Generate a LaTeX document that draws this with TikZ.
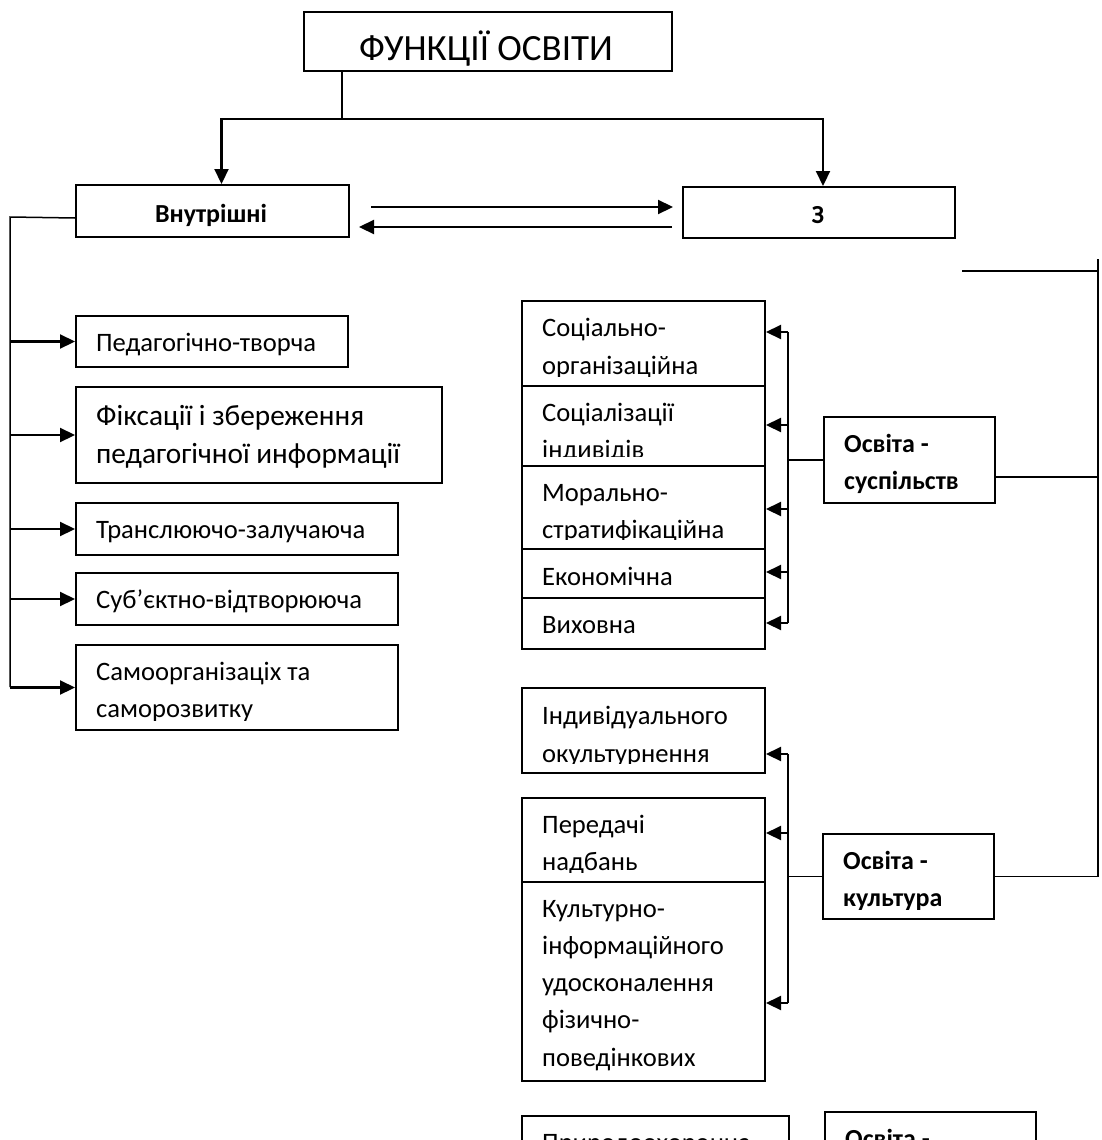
\documentclass[tikz,border=0pt]{standalone}
\usepackage{fontspec}
\setmainfont{Carlito}
\usetikzlibrary{arrows.meta}

\newcommand{\bodyfnt}{\fontsize{26.6}{37}\selectfont}
\newcommand{\boldfnt}{\fontsize{26}{37}\selectfont\bfseries}
\newcommand{\largefnt}{\fontsize{29.3}{38}\selectfont}
\newcommand{\titlefnt}{\fontsize{37}{40}\selectfont}

% текст у рамці, обрізаний знизу
\newcommand{\boxlines}[5]{%
  \begin{scope}
    \clip (#1.north west) rectangle ([yshift=11pt]#1.south east);
    \foreach \tline [count=\i] in {#5}
      \node[txt, font=#2, anchor=base west] (#1-\i)
        at ([xshift=21pt, yshift={-#3-(\i-1)*#4}]#1.north west) {\tline};
  \end{scope}}

\begin{document}
\begin{tikzpicture}[x=1pt,y=-1pt,>={Triangle[length=15pt,width=14pt]},
  box/.style={draw,line width=2pt,inner sep=0pt,anchor=north west},
  txt/.style={inner sep=0pt},
  ln/.style={line width=1.5pt},
  conn/.style={line width=2.2pt},
  arr/.style={line width=2.2pt,->}]
  \useasboundingbox (0,0) rectangle (1101,1140);
  \clip (0,0) rectangle (1101,1140);

  % верхній рівень
  \node[box,minimum width=368pt,minimum height=59pt] (fo) at (303,11) {};
  \node[txt,font=\titlefnt,anchor=base] (fot) at (486,61) {ФУНКЦІЇ ОСВІТИ};

  \node[box,minimum width=273pt,minimum height=52pt] (vn) at (75,184) {};
  \node[txt,font=\boldfnt,anchor=base] (vnt) at (211,222) {Внутрішні};
  \node[box,minimum width=272pt,minimum height=51pt] (z) at (682,186) {};
  \node[txt,font=\boldfnt,anchor=base] (zt) at (818,223) {З};

  \coordinate (hb) at (342,119);
  \draw[ln] (fo.south -| hb) -- (hb);
  \draw[arr] (hb) -| ([xshift=9pt]vn.north);
  \draw[arr] (hb) -| ([xshift=4pt]z.north);

  % стрілки між Внутрішні і З
  \coordinate (a1) at (371,207);
  \coordinate (a2) at (673,207);
  \coordinate (b1) at (672,227);
  \coordinate (b2) at (359,227);
  \draw[arr] (a1) -- (a2);
  \draw[arr] (b1) -- (b2);

  % внутрішні функції
  \node[box,minimum width=272pt,minimum height=51pt] (pt) at (75,315) {};
  \node[box,minimum width=366pt,minimum height=96pt] (fx) at (75,386) {};
  \node[box,minimum width=322pt,minimum height=52pt] (tz) at (75,502) {};
  \node[box,minimum width=322pt,minimum height=52pt] (sb) at (75,572) {};
  \node[box,minimum width=322pt,minimum height=85pt] (sm) at (75,644) {};
  \boxlines{pt}{\bodyfnt}{36pt}{37pt}{Педагогічно-творча}
  \boxlines{fx}{\largefnt}{39pt}{38pt}{Фіксації і збереження, педагогічної информації}
  \boxlines{tz}{\bodyfnt}{36pt}{37pt}{Транслюючо-залучаюча}
  \boxlines{sb}{\bodyfnt}{36pt}{37pt}{Суб’єктно-відтворююча}
  \boxlines{sm}{\bodyfnt}{36pt}{37pt}{Самоорганізаціх та, саморозвитку}

  \coordinate (trunk) at (10,217);
  \draw[ln] ([yshift=-7pt]vn.west) -- (trunk) -- (10,687);
  \foreach \n in {pt,fx,tz,sb,sm}
    \draw[arr] (trunk |- \n.west) -- (\n.west);

  % освіта - суспільство
  \node[box,minimum width=243pt,minimum height=85pt] (s1) at (521,300) {};
  \node[box,minimum width=243pt,minimum height=80pt] (s2) at (521,385) {};
  \node[box,minimum width=243pt,minimum height=83pt] (s3) at (521,465) {};
  \node[box,minimum width=243pt,minimum height=49pt] (s4) at (521,548) {};
  \node[box,minimum width=243pt,minimum height=51pt] (s5) at (521,597) {};
  \boxlines{s1}{\bodyfnt}{36pt}{38pt}{Соціально-, організаційна}
  \boxlines{s2}{\bodyfnt}{36pt}{37pt}{Соціалізації, індивідів}
  \boxlines{s3}{\bodyfnt}{36pt}{37pt}{Морально-, стратифікаційна}
  \boxlines{s4}{\bodyfnt}{37pt}{37pt}{Економічна}
  \boxlines{s5}{\bodyfnt}{36pt}{37pt}{Виховна}

  \node[box,minimum width=171pt,minimum height=86pt] (os) at (823,416) {};
  \boxlines{os}{\boldfnt}{36pt}{37pt}{Освіта -, суспільств}

  \coordinate (sx) at (788,332);
  \draw[conn] (sx) -- (788,623);
  \foreach \y/\n in {332/s1,425/s2,509/s3,572/s4,623/s5}
    \draw[arr] (788,\y) -- (\n.east |- 0,\y);
  \draw[ln] (sx |- os.west) -- (os.west);

  % освіта - культура
  \node[box,minimum width=243pt,minimum height=85pt] (k1) at (521,687) {};
  \node[box,minimum width=243pt,minimum height=84pt] (k2) at (521,797) {};
  \node[box,minimum width=243pt,minimum height=199pt] (k3) at (521,881) {};
  \boxlines{k1}{\bodyfnt}{37pt}{38pt}{Індивідуального, окультурнення}
  \boxlines{k2}{\bodyfnt}{36pt}{37pt}{Передачі, надбань}
  \boxlines{k3}{\bodyfnt}{36pt}{37.3pt}{Культурно-, інформаційного, удосконалення, фізично-, поведінкових}

  \node[box,minimum width=171pt,minimum height=85pt] (oc) at (822,833) {};
  \boxlines{oc}{\boldfnt}{36pt}{37pt}{Освіта -, культура}

  \coordinate (kx) at (788,754);
  \draw[conn] (kx) -- (788,1003);
  \foreach \y/\n in {754/k1,833/k2,1003/k3}
    \draw[arr] (788,\y) -- (\n.east |- 0,\y);
  \draw[ln] (kx |- oc.west) -- (oc.west);

  % права вертикаль
  \coordinate (rv) at (1098,259);
  \draw[ln] (rv) -- (rv |- oc.east);
  \draw[ln] (962,271) -- (rv |- 0,271);
  \draw[ln] (os.east |- 0,477) -- (rv |- 0,477);
  \draw[ln] (oc.east) -- (rv |- oc.east);

  % нижній ряд (обрізаний)
  \node[box,minimum width=267pt,minimum height=100pt] (pr) at (521,1115) {};
  \node[box,minimum width=211pt,minimum height=100pt] (ob) at (824,1111) {};
  \boxlines{pr}{\bodyfnt}{36pt}{37pt}{Природоохоронна}
  \boxlines{ob}{\boldfnt}{36pt}{37pt}{Освіта -}
\end{tikzpicture}
\end{document}
